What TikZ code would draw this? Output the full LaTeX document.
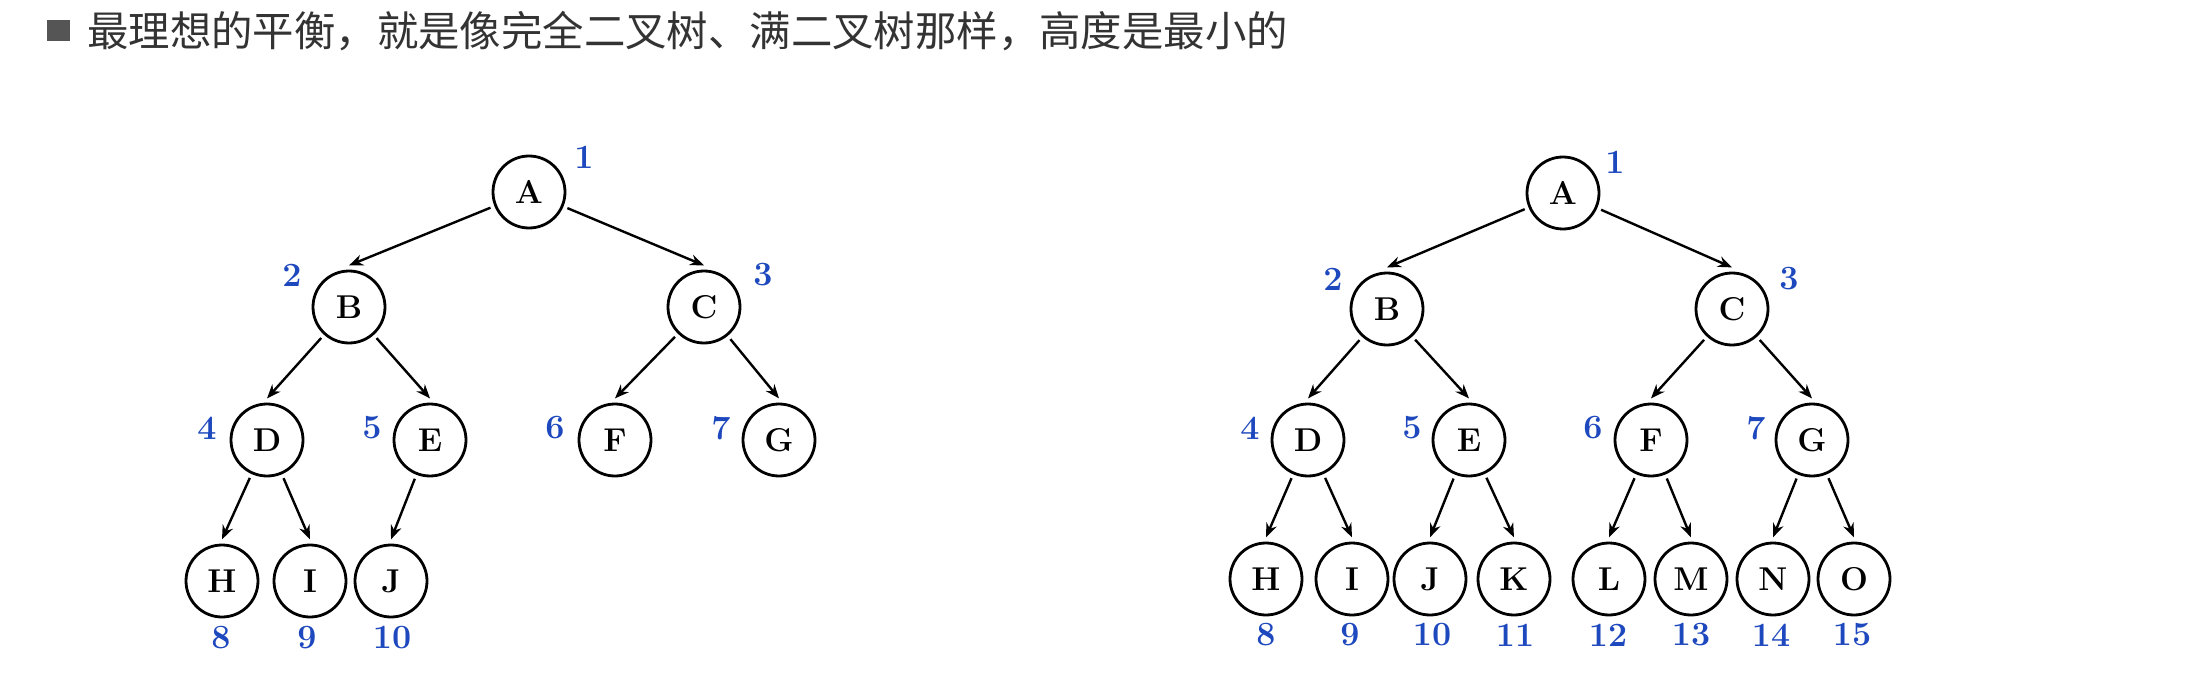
\documentclass[tikz,border=0pt]{standalone}
\usepackage{fontspec}
\newfontfamily\cjk{Noto Sans CJK SC}
\usetikzlibrary{arrows.meta}
\definecolor{numblue}{RGB}{30,72,190}
\definecolor{titlegray}{RGB}{51,51,51}
\definecolor{bulletgray}{RGB}{85,85,85}
\begin{document}
\begin{tikzpicture}[x=0.5pt,y=-0.5pt,
  tn/.style={circle, draw=black, line width=1.4pt, minimum size=36pt, inner sep=0pt, outer sep=2.8pt, font=\fontsize{16.5}{16.5}\selectfont\bfseries},
  num/.style={text=numblue, font=\fontsize{17}{17}\selectfont\bfseries, inner sep=0pt},
  edge/.style={-{Stealth[length=7pt,width=5.5pt]}, line width=1.2pt}]
\fill[white] (0,0) rectangle (2208,674);
\useasboundingbox (0,0) rectangle (2208,674);

% title
\node[fill=bulletgray, minimum width=11.5pt, minimum height=10.5pt, inner sep=0pt] (bullet) at (58.5,31) {};
\node[anchor=west, inner sep=0pt, text=titlegray, font=\cjk\fontsize{20.7}{20.7}\selectfont] (title) at (87,31) {最理想的平衡，就是像完全二叉树、满二叉树那样，高度是最小的};

% left tree
\node[tn] (LA) at (529,192) {A};
\node[tn] (LB) at (349,307) {B};
\node[tn] (LC) at (704,307) {C};
\node[tn] (LD) at (267,440) {D};
\node[tn] (LE) at (430,440) {E};
\node[tn] (LF) at (615,440) {F};
\node[tn] (LG) at (779,440) {G};
\node[tn] (LH) at (222,581) {H};
\node[tn] (LI) at (310,581) {I};
\node[tn] (LJ) at (391,581) {J};

\node[num] (l1) at (584,157) {1};
\node[num] (l2) at (292,275) {2};
\node[num] (l3) at (763,275) {3};
\node[num] (l4) at (207,428) {4};
\node[num] (l5) at (372,428) {5};
\node[num] (l6) at (555,428) {6};
\node[num] (l7) at (721,428) {7};
\node[num] (l8) at (221,638) {8};
\node[num] (l9) at (307,638) {9};
\node[num] (l10) at (392,638) {10};

\draw[edge] (LA) -- (LB.north);
\draw[edge] (LA) -- (LC.north);
\draw[edge] (LB) -- (LD.north);
\draw[edge] (LB) -- (LE.north);
\draw[edge] (LC) -- (LF.north);
\draw[edge] (LC) -- (LG.north);
\draw[edge] (LD) -- (LH.north);
\draw[edge] (LD) -- (LI.north);
\draw[edge] (LE) -- (LJ.north);

% right tree
\node[tn] (RA) at (1563,193) {A};
\node[tn] (RB) at (1387,309) {B};
\node[tn] (RC) at (1732,309) {C};
\node[tn] (RD) at (1308,440) {D};
\node[tn] (RE) at (1469,440) {E};
\node[tn] (RF) at (1651,440) {F};
\node[tn] (RG) at (1812,440) {G};
\node[tn] (RH) at (1266,579) {H};
\node[tn] (RI) at (1352,579) {I};
\node[tn] (RJ) at (1430,579) {J};
\node[tn] (RK) at (1514,579) {K};
\node[tn] (RL) at (1609,579) {L};
\node[tn] (RM) at (1691,579) {M};
\node[tn] (RN) at (1773,579) {N};
\node[tn] (RO) at (1854,579) {O};

\node[num] (r1) at (1615,162) {1};
\node[num] (r2) at (1333,279) {2};
\node[num] (r3) at (1789,279) {3};
\node[num] (r4) at (1250,428) {4};
\node[num] (r5) at (1412,428) {5};
\node[num] (r6) at (1593,428) {6};
\node[num] (r7) at (1756,428) {7};
\node[num] (r8) at (1266,635) {8};
\node[num] (r9) at (1350,635) {9};
\node[num] (r10) at (1432,635) {10};
\node[num] (r11) at (1515,635) {11};
\node[num] (r12) at (1608,635) {12};
\node[num] (r13) at (1691,635) {13};
\node[num] (r14) at (1771,635) {14};
\node[num] (r15) at (1852,635) {15};

\draw[edge] (RA) -- (RB.north);
\draw[edge] (RA) -- (RC.north);
\draw[edge] (RB) -- (RD.north);
\draw[edge] (RB) -- (RE.north);
\draw[edge] (RC) -- (RF.north);
\draw[edge] (RC) -- (RG.north);
\draw[edge] (RD) -- (RH.north);
\draw[edge] (RD) -- (RI.north);
\draw[edge] (RE) -- (RJ.north);
\draw[edge] (RE) -- (RK.north);
\draw[edge] (RF) -- (RL.north);
\draw[edge] (RF) -- (RM.north);
\draw[edge] (RG) -- (RN.north);
\draw[edge] (RG) -- (RO.north);
\end{tikzpicture}
\end{document}
